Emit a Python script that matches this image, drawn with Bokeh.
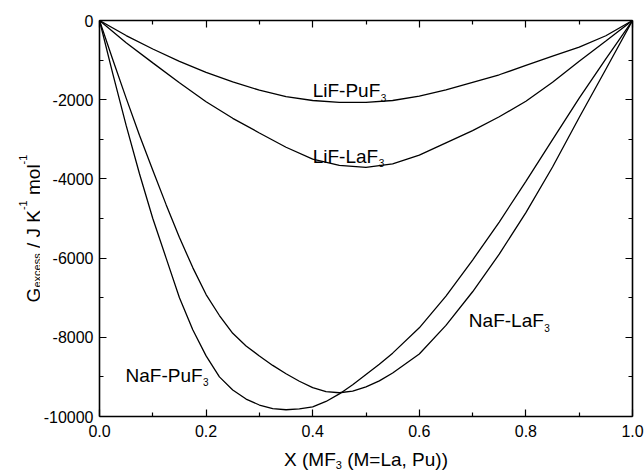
import math
from bokeh.plotting import figure
from bokeh.models import LinearAxis, FixedTicker, Label, Range1d, CustomJSTickFormatter
from bokeh.layouts import row, column
from bokeh.core.properties import value
from bokeh.embed import file_html
from bokeh.resources import INLINE

# ---------------- data ----------------
x_lif_puf3 = [0.0, 0.05, 0.1, 0.15, 0.2, 0.25, 0.3, 0.35, 0.4, 0.45, 0.5,
              0.55, 0.6, 0.65, 0.7, 0.75, 0.8, 0.85, 0.9, 0.95, 1.0]
g_lif_puf3 = [0, -380, -720, -1030, -1310, -1550, -1760, -1920, -2020, -2070, -2070,
              -2020, -1910, -1750, -1560, -1370, -1135, -900, -670, -385, 0]

x_lif_laf3 = [0.0, 0.05, 0.1, 0.15, 0.2, 0.25, 0.3, 0.35, 0.4, 0.45, 0.5,
              0.55, 0.6, 0.65, 0.7, 0.75, 0.8, 0.85, 0.9, 0.95, 1.0]
g_lif_laf3 = [0, -560, -1070, -1570, -2050, -2470, -2840, -3200, -3500, -3660, -3710,
              -3620, -3400, -3090, -2780, -2430, -2040, -1560, -1030, -520, 0]

x_naf_puf3 = [0.0, 0.025, 0.05, 0.075, 0.1, 0.125, 0.15, 0.175, 0.2, 0.225, 0.25,
              0.275, 0.3, 0.325, 0.35, 0.375, 0.4, 0.425, 0.45, 0.475, 0.5, 0.525,
              0.55, 0.6, 0.65, 0.7, 0.75, 0.8, 0.85, 0.9, 0.95, 1.0]
g_naf_puf3 = [0, -1350, -2650, -3870, -5000, -6000, -7000, -7810, -8470, -9000, -9330,
              -9560, -9710, -9800, -9830, -9810, -9755, -9620, -9430, -9200, -8940, -8680,
              -8400, -7760, -6960, -6050, -5090, -4060, -3010, -1960, -970, 0]

x_naf_laf3 = [0.0, 0.025, 0.05, 0.075, 0.1, 0.125, 0.15, 0.175, 0.2, 0.225, 0.25,
              0.275, 0.3, 0.325, 0.35, 0.375, 0.4, 0.425, 0.45, 0.475, 0.5, 0.525,
              0.55, 0.6, 0.65, 0.7, 0.75, 0.8, 0.85, 0.9, 0.95, 1.0]
g_naf_laf3 = [0, -990, -1960, -2900, -3780, -4650, -5480, -6240, -6920, -7450, -7900,
              -8220, -8470, -8710, -8920, -9110, -9270, -9370, -9400, -9360, -9250, -9100,
              -8900, -8420, -7700, -6850, -5900, -4850, -3700, -2450, -1230, 0]

series_names = ["LiF-PuF", "LiF-LaF", "NaF-PuF", "NaF-LaF"]
series_subs = ["3", "3", "3", "3"]

x_ticks = [0.0, 0.2, 0.4, 0.6, 0.8, 1.0]
x_tick_labels = ["0.0", "0.2", "0.4", "0.6", "0.8", "1.0"]
x_minor = [0.1, 0.3, 0.5, 0.7, 0.9]
y_ticks = [0, -2000, -4000, -6000, -8000, -10000]
y_tick_labels = ["0", "-2000", "-4000", "-6000", "-8000", "-10000"]
y_minor = [-1000, -3000, -5000, -7000, -9000]

x_title = [("X (MF", "n"), ("3", "sub"), (" (M=La, Pu))", "n")]
y_title = [("G", "n"), ("excess", "sub"), (" / J K", "n"), ("-1", "sup"),
           (" mol", "n"), ("-1", "sup")]

# ---------------- text metrics (Arial / Liberation Sans) ----------------
W = {'L': 556, 'i': 222, 'F': 611, '-': 333, 'P': 667, 'u': 556, '3': 556, 'a': 556,
     'N': 722, 'X': 667, ' ': 278, '(': 333, ')': 333, 'M': 833, '=': 584, ',': 278,
     'G': 778, 'e': 556, 'x': 500, 'c': 500, 's': 500, '/': 278, 'J': 500, 'K': 667,
     'm': 833, 'o': 556, 'l': 222, '1': 556}


def tw(s, size):
    return sum(W.get(c, 556) for c in s) / 1000.0 * size


FONT = "Liberation Sans"
TOTAL_W, TOTAL_H = 644, 473
LEFT_W, BOTTOM_H = 40, 27
MAIN_W, MAIN_H = TOTAL_W - LEFT_W, TOTAL_H - BOTTOM_H
FR_L, FR_R, FR_T, FR_B = 99, 632, 20, 416   # frame edges in page pixels

# ---------------- main plot ----------------
p = figure(width=MAIN_W, height=MAIN_H, output_backend="svg", toolbar_location=None,
           title_location=None,
           x_range=Range1d(0, 1), y_range=Range1d(-10000, 0),
           x_axis_location=None, y_axis_location=None,
           min_border_left=FR_L - LEFT_W, min_border_right=TOTAL_W - FR_R,
           min_border_top=FR_T, min_border_bottom=MAIN_H - FR_B)
p.grid.visible = False
p.outline_line_color = None
p.background_fill_color = "white"
p.border_fill_color = "white"

for xs, gs in [(x_lif_puf3, g_lif_puf3), (x_lif_laf3, g_lif_laf3),
               (x_naf_puf3, g_naf_puf3), (x_naf_laf3, g_naf_laf3)]:
    p.line(xs, gs, line_color="black", line_width=1.3)

FMT_CODE = """
let best = -1, bd = 1e99;
for (let i = 0; i < tks.length; i++) {
  const d = Math.abs(tks[i] - tick);
  if (d < bd) { bd = d; best = i; }
}
return (show && best >= 0 && bd < 1e-6 * (1 + Math.abs(tick))) ? labs[best] : "";
"""


def make_axis(tick_vals, minor, labels, show, standoff):
    ax = LinearAxis()
    ax.ticker = FixedTicker(ticks=tick_vals, minor_ticks=minor)
    ax.formatter = CustomJSTickFormatter(args=dict(tks=tick_vals, labs=labels, show=show),
                                         code=FMT_CODE)
    ax.axis_line_color = "black"
    ax.axis_line_width = 1.6
    ax.major_tick_in = 7
    ax.major_tick_out = 0
    ax.minor_tick_in = 4
    ax.minor_tick_out = 0
    ax.major_tick_line_color = "black"
    ax.minor_tick_line_color = "black"
    ax.major_tick_line_width = 1.2
    ax.minor_tick_line_width = 1.2
    ax.major_label_text_font = FONT
    ax.major_label_text_font_size = "16px" if show else "1px"
    ax.major_label_text_color = "black"
    ax.major_label_standoff = standoff
    return ax


p.add_layout(make_axis(x_ticks, x_minor, x_tick_labels, True, 8), "below")
p.add_layout(make_axis(y_ticks, y_minor, y_tick_labels, True, 6), "left")
p.add_layout(make_axis(x_ticks, x_minor, x_tick_labels, False, 0), "above")
p.add_layout(make_axis(y_ticks, y_minor, y_tick_labels, False, 0), "right")

# ---------------- curve annotations ----------------
ann_pos = [(0.40, -1768), (0.40, -3434), (0.0488, -8957), (0.693, -7576)]
AS, SS = 19, 10
for name, sub, (ax_, ay_) in zip(series_names, series_subs, ann_pos):
    p.add_layout(Label(x=ax_, y=ay_, text=name, text_font=FONT, text_font_size=f"{AS}px",
                       text_baseline="alphabetic", text_align="left", text_color="black"))
    p.add_layout(Label(x=ax_, y=ay_, x_offset=tw(name, AS) + 0.5, y_offset=-7, text=sub,
                       text_font=FONT, text_font_size=f"{SS}px",
                       text_baseline="alphabetic", text_align="left", text_color="black"))


def helper(w, h, xr, yr, bl, br, bt, bb):
    f = figure(width=w, height=h, output_backend="svg", toolbar_location=None,
               title_location=None,
               x_range=Range1d(*xr), y_range=Range1d(*yr),
               x_axis_location=None, y_axis_location=None,
               min_border_left=bl, min_border_right=br,
               min_border_top=bt, min_border_bottom=bb)
    f.grid.visible = False
    f.outline_line_color = None
    f.background_fill_color = "white"
    f.border_fill_color = "white"
    return f


LS, TS = 19, 11  # title font size, sub/superscript size


def pieces(parts):
    """split leading spaces off each piece (SVG drops them) and return
    (text, kind, size, lead_advance, body_width)"""
    out = []
    for t, k in parts:
        size = LS if k == "n" else TS
        body = t.lstrip(" ")
        lead = tw(t[:len(t) - len(body)], size)
        out.append((body, k, size, lead, tw(body, size)))
    return out


# ---------------- x axis title (page pixel coordinates) ----------------
fb = helper(MAIN_W, BOTTOM_H, (FR_L, FR_R), (TOTAL_H, MAIN_H),
            FR_L - LEFT_W, TOTAL_W - FR_R, 0, 0)
x_center = (FR_L + FR_R) / 2.0
x_base = 459
xp = pieces(x_title)
total = sum(lead + w for _, _, _, lead, w in xp)
cx = x_center - total / 2
for body, k, size, lead, w in xp:
    cx += lead
    by = x_base + (5 if k == "sub" else 0)
    fb.text(x=[cx], y=[by], text=[body], text_font=value(FONT),
            text_font_size=value(f"{size}px"),
            text_baseline="alphabetic", text_align="left", text_color="black")
    cx += w

# ---------------- y axis title (rotated, page pixel coordinates) ----------------
fl = helper(LEFT_W, TOTAL_H, (0, LEFT_W), (FR_B, FR_T), 0, 0, FR_T, TOTAL_H - FR_B)
y_center = 228
y_base = 33
yp = pieces(y_title)
total = sum(lead + w for _, _, _, lead, w in yp)
cy = y_center + total / 2
for body, k, size, lead, w in yp:
    cy -= lead
    bx = y_base + (3 if k == "sub" else (-11 if k == "sup" else 0))
    fl.text(x=[bx], y=[cy], text=[body], angle=math.pi / 2, text_font=value(FONT),
            text_font_size=value(f"{size}px"), text_baseline="alphabetic",
            text_align="left", text_color="black")
    cy -= w

layout = row(fl, column(p, fb, spacing=0), spacing=0)
open("out.html", "w").write(file_html(layout, INLINE))
